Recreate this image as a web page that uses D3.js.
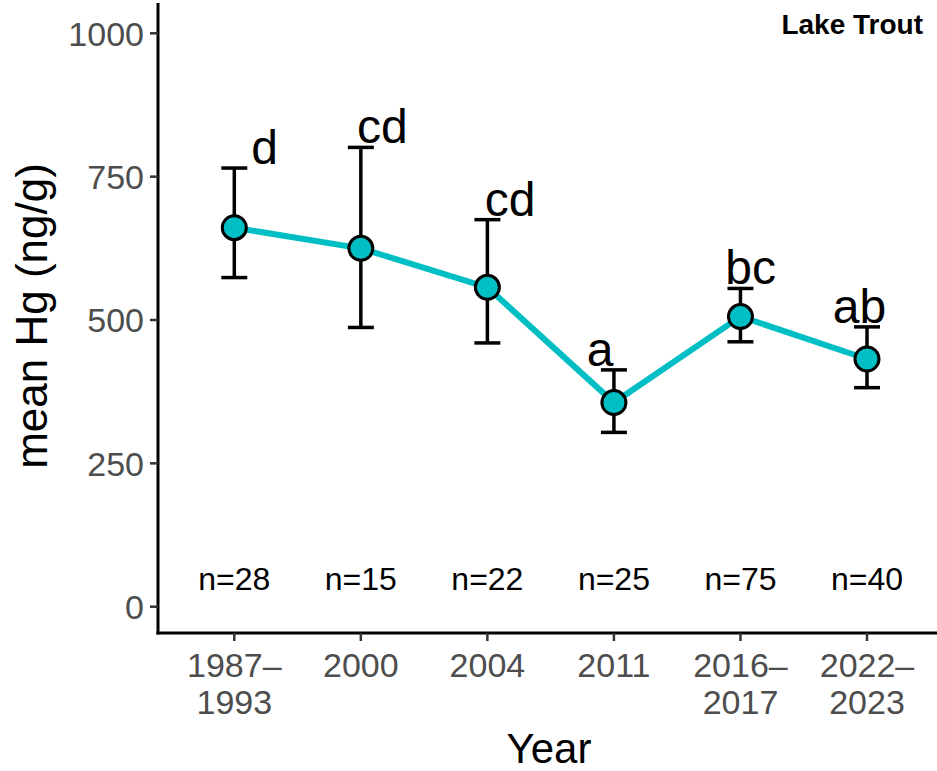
<!DOCTYPE html>
<html>
<head>
<meta charset="utf-8">
<script src="https://cdn.jsdelivr.net/npm/d3@7"></script>
<style>
  body { margin: 0; background: #fff; }
  text { font-family: "Liberation Sans", Arial, sans-serif; }
</style>
</head>
<body>
<script>
// data
var periods = ["1987–1993", "2000", "2004", "2011", "2016–2017", "2022–2023"];
var tickLines = [["1987–", "1993"], ["2000"], ["2004"], ["2011"], ["2016–", "2017"], ["2022–", "2023"]];
var meanHg = [661, 625, 557, 356, 506, 432];
var lowerHg = [574, 487, 460, 304, 462, 382];
var upperHg = [765, 801, 675, 413, 555, 488];
var groups = ["d", "cd", "cd", "a", "bc", "ab"];
var groupNudge = [0.24, 0.17, 0.18, -0.11, 0.08, -0.06];
var sampleN = [28, 15, 22, 25, 75, 40];
var yTicks = [0, 250, 500, 750, 1000];

var width = 937, height = 771;
var svg = d3.select("body").append("svg")
    .attr("width", width)
    .attr("height", height);

var x = d3.scalePoint().domain(periods).range([234.3, 867]);
var step = x.step();
var y = d3.scaleLinear().domain([0, 1000]).range([606.7, 33.3]);
var axisLeft = 158, axisBottom = 633, teal = "#00BFC4";

var pts = periods.map(function(p, i) {
  return { p: p, m: meanHg[i], lo: lowerHg[i], hi: upperHg[i], g: groups[i], nudge: groupNudge[i], n: sampleN[i], lines: tickLines[i] };
});

// y axis
svg.append("line")
    .attr("x1", axisLeft).attr("x2", axisLeft)
    .attr("y1", 3).attr("y2", axisBottom + 1.5)
    .attr("stroke", "#000").attr("stroke-width", 3);
var yt = svg.selectAll(".ytick").data(yTicks).enter().append("g")
    .attr("class", "ytick")
    .attr("transform", function(d) { return "translate(0," + y(d) + ")"; });
yt.append("line").attr("x1", axisLeft - 8).attr("x2", axisLeft)
    .attr("stroke", "#333").attr("stroke-width", 2.5);
yt.append("text")
    .attr("x", axisLeft - 14).attr("dy", "0.36em")
    .attr("text-anchor", "end")
    .attr("font-size", 34).attr("fill", "#4D4D4D")
    .text(function(d) { return d; });

// x axis
svg.append("line")
    .attr("x1", axisLeft - 1.5).attr("x2", width)
    .attr("y1", axisBottom).attr("y2", axisBottom)
    .attr("stroke", "#000").attr("stroke-width", 3);
var xt = svg.selectAll(".xtick").data(pts).enter().append("g")
    .attr("class", "xtick")
    .attr("transform", function(d) { return "translate(" + x(d.p) + ",0)"; });
xt.append("line").attr("y1", axisBottom).attr("y2", axisBottom + 8)
    .attr("stroke", "#333").attr("stroke-width", 2.5);
xt.each(function(d) {
  d3.select(this).selectAll("text").data(d.lines).enter().append("text")
      .attr("y", function(s, j) { return 677 + j * 37; })
      .attr("text-anchor", "middle")
      .attr("font-size", 34).attr("fill", "#4D4D4D")
      .text(function(s) { return s; });
});

// axis titles
svg.append("text")
    .attr("x", 549).attr("y", 763)
    .attr("text-anchor", "middle").attr("font-size", 42)
    .text("Year");
svg.append("text")
    .attr("transform", "translate(47,316) rotate(-90)")
    .attr("text-anchor", "middle").attr("font-size", 44)
    .text("mean Hg (ng/g)");

// species tag
svg.append("text")
    .attr("x", 923).attr("y", 34)
    .attr("text-anchor", "end").attr("font-size", 28).attr("font-weight", "bold")
    .text("Lake Trout");

// line
var line = d3.line().x(function(d) { return x(d.p); }).y(function(d) { return y(d.m); });
svg.append("path").datum(pts)
    .attr("d", line)
    .attr("fill", "none").attr("stroke", teal).attr("stroke-width", 6);

// error bars
var eb = svg.selectAll(".eb").data(pts).enter().append("g").attr("class", "eb");
eb.append("line")
    .attr("x1", function(d) { return x(d.p); }).attr("x2", function(d) { return x(d.p); })
    .attr("y1", function(d) { return y(d.lo); }).attr("y2", function(d) { return y(d.hi); })
    .attr("stroke", "#000").attr("stroke-width", 3.5);
["lo", "hi"].forEach(function(k) {
  eb.append("line")
      .attr("x1", function(d) { return x(d.p) - 13; }).attr("x2", function(d) { return x(d.p) + 13; })
      .attr("y1", function(d) { return y(d[k]); }).attr("y2", function(d) { return y(d[k]); })
      .attr("stroke", "#000").attr("stroke-width", 3.5);
});

// points
svg.selectAll(".pt").data(pts).enter().append("circle")
    .attr("class", "pt")
    .attr("cx", function(d) { return x(d.p); })
    .attr("cy", function(d) { return y(d.m); })
    .attr("r", 12)
    .attr("fill", teal).attr("stroke", "#000").attr("stroke-width", 3);

// significance letters
svg.selectAll(".grp").data(pts).enter().append("text")
    .attr("class", "grp")
    .attr("x", function(d) { return x(d.p) + d.nudge * step; })
    .attr("y", function(d) { return y(d.hi) - 4; })
    .attr("text-anchor", "middle").attr("font-size", 48)
    .text(function(d) { return d.g; });

// sample sizes
svg.selectAll(".nlab").data(pts).enter().append("text")
    .attr("class", "nlab")
    .attr("x", function(d) { return x(d.p); })
    .attr("y", y(50))
    .attr("dy", "0.36em")
    .attr("text-anchor", "middle").attr("font-size", 32)
    .text(function(d) { return "n=" + d.n; });
</script>
</body>
</html>
